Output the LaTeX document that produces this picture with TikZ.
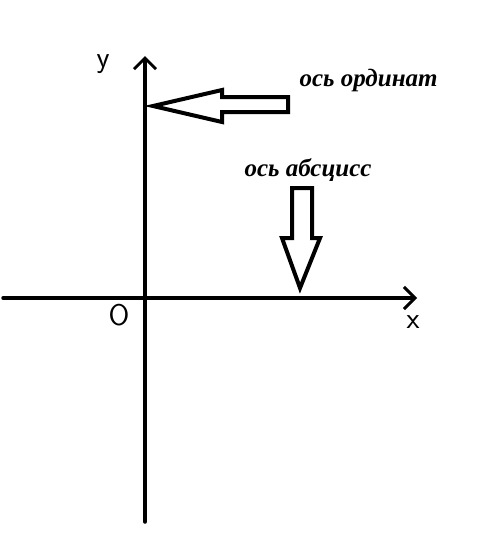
\documentclass[tikz,border=0pt]{standalone}
\usepackage{fontspec}
\setmainfont{Liberation Serif}
\usepackage{tikz}
\usetikzlibrary{arrows.meta, positioning}

\begin{document}
\begin{tikzpicture}[
    x=1pt, y=-1pt,
    axis/.style={line width=3.5pt, line cap=round,
        -{Straight Barb[length=11pt, width=22pt, line width=3pt]}},
    bigarrow/.style={draw=black, line width=4pt, line join=miter, fill=white},
    axlabel/.style={font=\fontsize{30}{30}\selectfont\sffamily},
    caption/.style={font=\fontsize{25}{25}\selectfont\itshape\bfseries, anchor=west}
]
\useasboundingbox (0,0) rectangle (483,549);

% axes
\coordinate (xstart) at (3,298);
\coordinate (xend) at (417,298);
\coordinate (ystart) at (145,522);
\coordinate (yend) at (145,56);

\draw[axis] (xstart) -- (xend);
\draw[axis] (ystart) -- (yend);

\node[axlabel] (ylabel) at (103,64) {y};
\node[axlabel] (xlabel) at (413,322) {x};
\node[axlabel] (origin) at (119,315) {O};

% pointer to the ordinate axis
\draw[bigarrow] (153,106) -- (222,90) -- (222,97) -- (288,97) -- (288,112)
    -- (222,112) -- (222,122) -- cycle;
\node[caption] (ordinate) at (296,80) {ось ординат};

% pointer to the abscissa axis
\draw[bigarrow] (292,188) -- (312,188) -- (312,238) -- (320,238) -- (300,288)
    -- (282,238) -- (292,238) -- cycle;
\node[caption] (abscissa) at (241,170) {ось абсцисс};

\end{tikzpicture}
\end{document}
